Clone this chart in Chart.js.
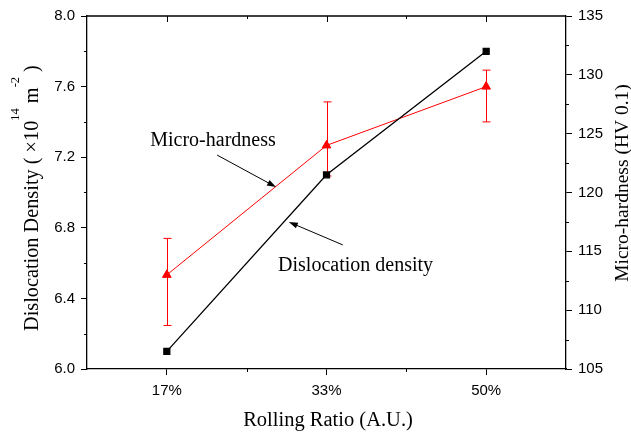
<!DOCTYPE html>
<html>
<head>
<meta charset="utf-8">
<script src="https://cdn.jsdelivr.net/npm/chart.js@4.4.1/dist/chart.umd.min.js"></script>
<style>
  body { margin: 0; background: #fff; }
  canvas { display: block; }
</style>
</head>
<body>
<canvas id="chart" width="631" height="432"></canvas>
<script>
const ratios = ['17%', '33%', '50%']
const dislocation = [6.10, 7.10, 7.80]
const hardness = [113.0, 124.0, 129.0]
const hardnessLow = [108.7, 121.4, 126.0]
const hardnessHigh = [116.1, 127.7, 130.4]

const sansFont = '"Liberation Sans", Arial, sans-serif'
const serifFont = '"Liberation Serif", "Times New Roman", serif'

// label (baseline) and arrow anchors in data units (x = category index, y = left axis)
const notes = [
  { text: 'Micro-hardness', x: 0.289, y: 7.263, from: [0.315, 7.212], to: [0.684, 7.031] },
  { text: 'Dislocation density', x: 1.182, y: 6.555, from: [1.102, 6.703], to: [0.764, 6.833] }
]

const drawArrow = (ctx, x1, y1, x2, y2) => {
  const ang = Math.atan2(y2 - y1, x2 - x1)
  const len = 9, half = 3
  ctx.beginPath()
  ctx.moveTo(x1, y1)
  ctx.lineTo(x2 - Math.cos(ang) * len * 0.8, y2 - Math.sin(ang) * len * 0.8)
  ctx.stroke()
  ctx.beginPath()
  ctx.moveTo(x2, y2)
  ctx.lineTo(x2 - Math.cos(ang) * len + Math.sin(ang) * half, y2 - Math.sin(ang) * len - Math.cos(ang) * half)
  ctx.lineTo(x2 - Math.cos(ang) * len - Math.sin(ang) * half, y2 - Math.sin(ang) * len + Math.cos(ang) * half)
  ctx.closePath()
  ctx.fill()
}

const extras = {
  id: 'extras',
  beforeDatasetsDraw(chart) {
    const { ctx } = chart
    const x = chart.scales.x, y1 = chart.scales.y1
    ctx.save()
    ctx.strokeStyle = 'red'
    ctx.lineWidth = 1
    hardness.forEach((v, i) => {
      const px = Math.round(x.getPixelForValue(i)) + 0.5
      const top = y1.getPixelForValue(hardnessHigh[i])
      const bot = y1.getPixelForValue(hardnessLow[i])
      ctx.beginPath()
      ctx.moveTo(px, top); ctx.lineTo(px, bot)
      ctx.moveTo(px - 4, top); ctx.lineTo(px + 4, top)
      ctx.moveTo(px - 4, bot); ctx.lineTo(px + 4, bot)
      ctx.stroke()
    })
    ctx.restore()
  },
  afterDraw(chart) {
    const { ctx, chartArea: a } = chart
    const x = chart.scales.x, y = chart.scales.y, y1 = chart.scales.y1
    ctx.save()
    ctx.strokeStyle = '#000'
    ctx.fillStyle = '#000'
    ctx.lineWidth = 1.3
    // top frame
    ctx.beginPath()
    ctx.moveTo(a.left, a.top); ctx.lineTo(a.right, a.top)
    ctx.stroke()
    ctx.lineWidth = 1
    ctx.beginPath()
    // x ticks on top (inward) and minor ticks on bottom
    for (let i = 0; i < ratios.length; i++) {
      const px = Math.round(x.getPixelForValue(i)) + 0.5
      ctx.moveTo(px, a.top); ctx.lineTo(px, a.top + 6)
      if (i < ratios.length - 1) {
        const mx = Math.round(x.getPixelForValue(i + 0.5)) + 0.5
        ctx.moveTo(mx, a.bottom); ctx.lineTo(mx, a.bottom + 3)
        ctx.moveTo(mx, a.top); ctx.lineTo(mx, a.top + 3)
      }
    }
    // minor ticks left
    for (let v = 6.2; v < 8; v += 0.4) {
      const py = Math.round(y.getPixelForValue(v)) + 0.5
      ctx.moveTo(a.left, py); ctx.lineTo(a.left - 3, py)
    }
    // minor ticks right
    for (let v = 107.5; v < 135; v += 5) {
      const py = Math.round(y1.getPixelForValue(v)) + 0.5
      ctx.moveTo(a.right, py); ctx.lineTo(a.right + 3, py)
    }
    ctx.stroke()

    // annotations
    ctx.font = '20px ' + serifFont
    ctx.textAlign = 'center'
    ctx.textBaseline = 'alphabetic'
    notes.forEach(n => {
      ctx.fillText(n.text, x.getPixelForValue(n.x), y.getPixelForValue(n.y))
      drawArrow(ctx,
        x.getPixelForValue(n.from[0]), y.getPixelForValue(n.from[1]),
        x.getPixelForValue(n.to[0]), y.getPixelForValue(n.to[1]))
    })

    // axis titles
    ctx.font = '20.5px ' + serifFont
    ctx.fillText('Rolling Ratio (A.U.)', 328, 426)

    ctx.save()
    ctx.translate(628, 183)
    ctx.rotate(-Math.PI / 2)
    ctx.font = '19.5px ' + serifFont
    ctx.fillText('Micro-hardness (HV 0.1)', 0, 0)
    ctx.restore()

    // left title with superscripts
    const parts = [
      ['Dislocation Density ( \u00d710', 20.3, 0],
      ['14', 12.5, 19],
      [' m', 20.3, 0],
      ['-2', 12.5, 19],
      [' )', 20.3, 0]
    ]
    ctx.save()
    ctx.translate(38, 331)
    ctx.rotate(-Math.PI / 2)
    ctx.textAlign = 'left'
    let cx = 0
    parts.forEach(p => {
      ctx.font = p[1] + 'px ' + serifFont
      ctx.fillText(p[0], cx, -p[2])
      cx += ctx.measureText(p[0]).width
    })
    ctx.restore()
    ctx.restore()
  }
}

new Chart('chart', {
  type: 'line',
  data: {
    labels: ratios,
    datasets: [{
      label: 'Dislocation density',
      data: dislocation,
      yAxisID: 'y',
      borderColor: '#000',
      backgroundColor: '#000',
      borderWidth: 1.3,
      pointStyle: 'rect',
      pointRadius: 4.2,
      order: 0
    }, {
      label: 'Micro-hardness',
      data: hardness,
      yAxisID: 'y1',
      borderColor: 'red',
      backgroundColor: 'red',
      borderWidth: 1,
      pointStyle: 'triangle',
      pointRadius: 5,
      order: 1
    }]
  },
  options: {
    responsive: false,
    animation: false,
    layout: { padding: { top: 16, left: 0, right: 0, bottom: 0 } },
    plugins: { legend: { display: false }, tooltip: { enabled: false } },
    scales: {
      x: {
        type: 'category',
        offset: true,
        grid: { offset: false, drawOnChartArea: false, tickLength: 6, color: '#000' },
        border: { color: '#000', width: 1.3 },
        ticks: { color: '#000', font: { family: sansFont, size: 15 }, padding: 7, maxRotation: 0 },
        afterFit: s => { s.height = 63 }
      },
      y: {
        position: 'left',
        min: 6.0,
        max: 8.0,
        grid: { drawOnChartArea: false, tickLength: 6, color: '#000' },
        border: { color: '#000', width: 1.3 },
        ticks: { stepSize: 0.4, color: '#000', font: { family: sansFont, size: 15 }, padding: 6, callback: v => v.toFixed(1) },
        afterFit: s => { s.width = 87 }
      },
      y1: {
        position: 'right',
        min: 105,
        max: 135,
        grid: { drawOnChartArea: false, tickLength: 6, color: '#000' },
        border: { color: '#000', width: 1.3 },
        ticks: { stepSize: 5, color: '#000', font: { family: sansFont, size: 15 }, padding: 6 },
        afterFit: s => { s.width = 65 }
      }
    }
  },
  plugins: [extras]
})
</script>
</body>
</html>
